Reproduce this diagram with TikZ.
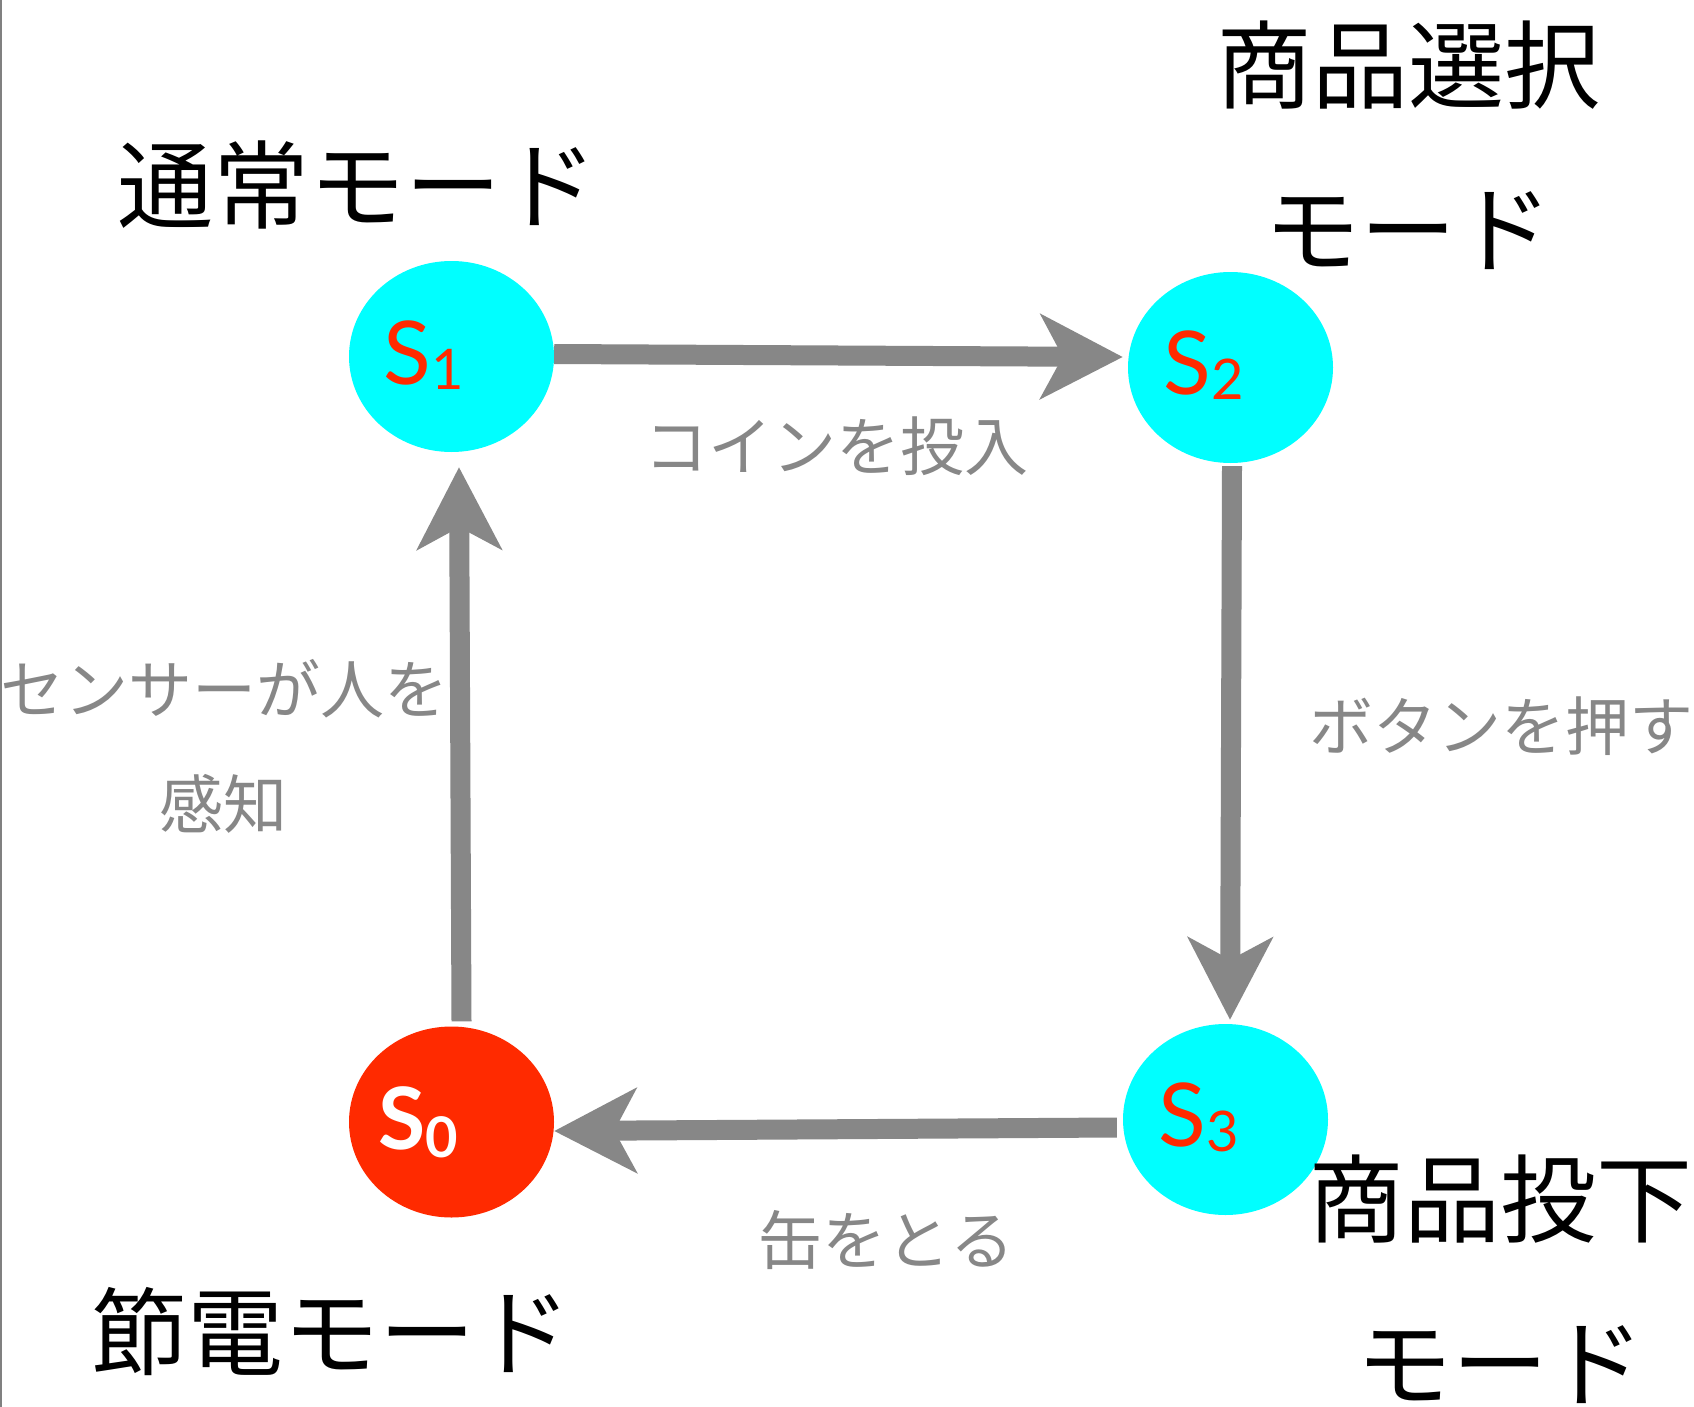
\documentclass[tikz,border=0pt]{standalone}
\usepackage{fontspec}
\setmainfont{Lato}
\newfontfamily\jp{Noto Sans CJK JP}
\usetikzlibrary{arrows.meta,shapes.geometric,calc}
\definecolor{stcyan}{HTML}{00FFFF}
\definecolor{stred}{HTML}{FF2A00}
\definecolor{argray}{HTML}{878787}
\begin{document}
\begin{tikzpicture}[x=1pt,y=-1pt,
  state/.style={ellipse, minimum width=205pt, minimum height=191pt, inner sep=0pt, fill=stcyan},
  slabel/.style={anchor=base west, inner sep=0pt, text=stred, font=\fontsize{88}{88}\selectfont},
  trans/.style={draw=argray, line width=20pt, -{Stealth[length=82pt,width=84pt,inset=22pt]}},
  modelabel/.style={font=\jp\fontsize{96}{164}\selectfont, align=center, inner sep=0pt},
  evlabel/.style={font=\jp\fontsize{64}{115}\selectfont, text=argray, align=center, inner sep=0pt}]
\fill[white] (0,0) rectangle (1694,1407);
\useasboundingbox (0,0) rectangle (1694,1407);
\draw[gray, line width=1.5pt] (1,0) -- (1,1407);

% states
\node[state] (s1) at (451.5,356.5) {};
\node[state] (s2) at (1230.5,367.5) {};
\node[state] (s3) at (1225.5,1119.5) {};
\node[state, fill=stred] (s0) at (451.5,1122) {};

\node[slabel] (s1l) at ($(s1.center)+(-68,28)$) {S\raisebox{-5pt}{\fontsize{56}{56}\selectfont 1}};
\node[slabel] (s2l) at ($(s2.center)+(-67,27)$) {S\raisebox{-5pt}{\fontsize{56}{56}\selectfont 2}};
\node[slabel] (s3l) at ($(s3.center)+(-67,27)$) {S\raisebox{-5pt}{\fontsize{56}{56}\selectfont 3}};
\node[slabel, text=white, font=\bfseries\fontsize{86}{86}\selectfont] (s0l) at ($(s0.center)+(-73,27)$) {S\raisebox{-8pt}{\fontsize{56}{56}\selectfont 0}};

% transitions
\draw[trans] ($(s1.east)+(0,-2.5)$) -- ($(s2.west)+(-5,-10.5)$);
\draw[trans] ($(s2.south)+(1.5,3)$) -- ($(s3.north)+(4.5,-4)$);
\draw[trans] ($(s3.west)+(-6,8)$) -- ($(s0.east)+(0,9)$);
\draw[trans] ($(s0.north)+(10,-5)$) -- ($(s1.south)+(7.5,15)$);

% mode labels
\node[modelabel] (m1) at (357,185) {通常モード};
\node[modelabel] (m2) at (1408,145) {商品選択\\モード};
\node[modelabel] (m3) at (1500,1279) {商品投下\\モード};
\node[modelabel] (m0) at (331,1332) {節電モード};

% event labels
\node[evlabel] (e12) at (836,446) {コインを投入};
\node[evlabel] (e23) at (1501,726) {ボタンを押す};
\node[evlabel] (e30) at (886,1240) {缶をとる};
\node[evlabel] (e01) at (224,746.5) {センサーが人を\\感知};
\end{tikzpicture}
\end{document}
